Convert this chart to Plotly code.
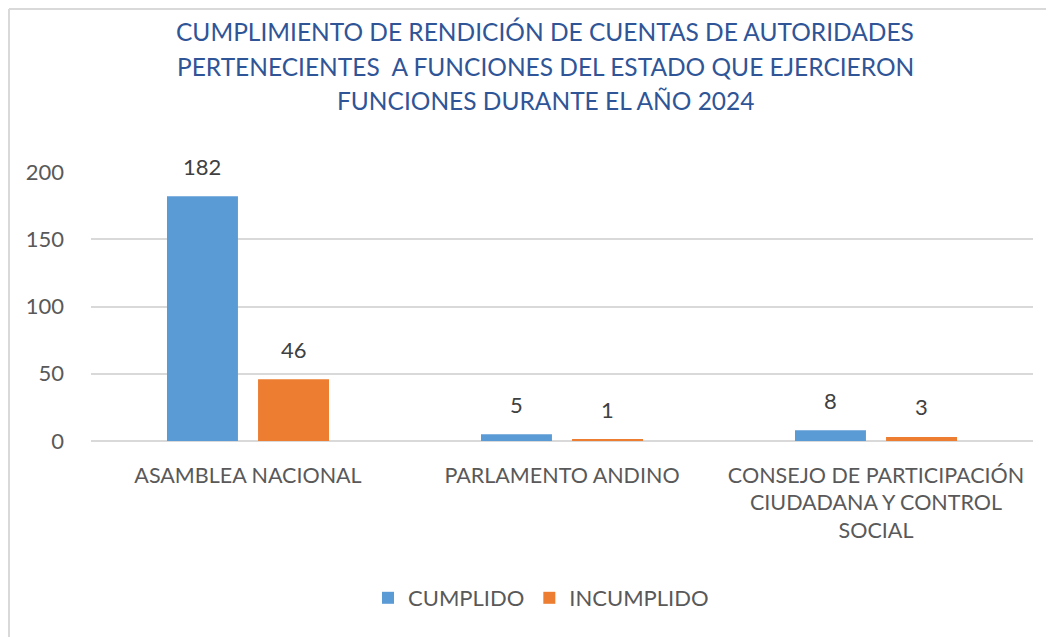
import plotly.graph_objects as go

categories = ["ASAMBLEA NACIONAL", "PARLAMENTO ANDINO",
              "CONSEJO DE PARTICIPACIÓN<br>CIUDADANA Y CONTROL<br>SOCIAL"]
cumplido = [182, 5, 8]
incumplido = [46, 1, 3]
series_names = ["CUMPLIDO", "INCUMPLIDO"]
title_lines = [
    "CUMPLIMIENTO DE RENDICIÓN DE CUENTAS DE AUTORIDADES",
    "PERTENECIENTES  A FUNCIONES DEL ESTADO QUE EJERCIERON",
    "FUNCIONES DURANTE EL AÑO 2024",
]
y_ticks = [0, 50, 100, 150, 200]

colors = ["#5B9BD5", "#ED7D31"]
text_color = "#595959"
font_axis = "Lato, Open Sans, sans-serif"
font_title = "Lato, sans-serif"

# page body has an 8px margin; work in page pixels
OFF = 8
PL, PR, PT, PB = 91, 1033, 172, 441  # plot area in page pixels
PW, PH = PR - PL, PB - PT


def px_x(x):
    return (x - PL) / PW


def px_y(y):
    return (PB - y) / PH


idx = list(range(len(categories)))
offset = 0.145
bw = 0.226

fig = go.Figure()
for k, (vals, name) in enumerate(zip([cumplido, incumplido], series_names)):
    sgn = -1 if k == 0 else 1
    xs = [i + sgn * offset for i in idx]
    fig.add_trace(go.Bar(x=xs, y=vals, name=name, width=bw,
                         marker=dict(color=colors[k], line=dict(width=0))))
    for x, v in zip(xs, vals):
        fig.add_annotation(x=x, y=v, xref="x", yref="y", text=str(v),
                           showarrow=False, yshift=30,
                           font=dict(family=font_axis, size=22, color="#404040"))

for line, yy in zip(title_lines, [31, 66, 101]):
    fig.add_annotation(x=px_x(545), y=px_y(yy), xref="paper", yref="paper",
                       xanchor="center", yanchor="middle",
                       text=line, showarrow=False,
                       font=dict(family=font_title, size=24.5, color="#2F5597"))

# chart border (top and left visible)
bx, by = px_x(9), px_y(9)
fig.add_shape(type="line", xref="paper", yref="paper",
              x0=bx, x1=1.2, y0=by, y1=by, line=dict(color="#D9D9D9", width=2))
fig.add_shape(type="line", xref="paper", yref="paper",
              x0=bx, x1=bx, y0=-1, y1=by, line=dict(color="#D9D9D9", width=2))

W, H = 1054 - OFF, 637 - OFF
fig.update_layout(
    width=W, height=H,
    margin=dict(l=PL - OFF, r=OFF + W - PR, t=PT - OFF, b=OFF + H - PB),
    paper_bgcolor="white", plot_bgcolor="white",
    barmode="overlay",
    showlegend=True,
    legend=dict(orientation="h", x=px_x(541), xanchor="center",
                y=px_y(598), yanchor="middle",
                font=dict(family=font_axis, size=22, color=text_color),
                traceorder="normal"),
    xaxis=dict(tickmode="array", tickvals=idx, ticktext=categories,
               range=[-0.5, 2.5], showgrid=False, zeroline=False, showline=False,
               ticks="", ticklabelstandoff=19,
               tickfont=dict(family=font_axis, size=21.5, color=text_color)),
    yaxis=dict(range=[0, 200], tickvals=y_ticks, showgrid=True,
               gridcolor="#D9D9D9", gridwidth=1.5, zeroline=True,
               zerolinecolor="#D9D9D9", zerolinewidth=1.5, showline=False,
               ticks="", ticklabelstandoff=26,
               tickfont=dict(family=font_axis, size=22, color=text_color)),
)

fig.write_html("out.html")
